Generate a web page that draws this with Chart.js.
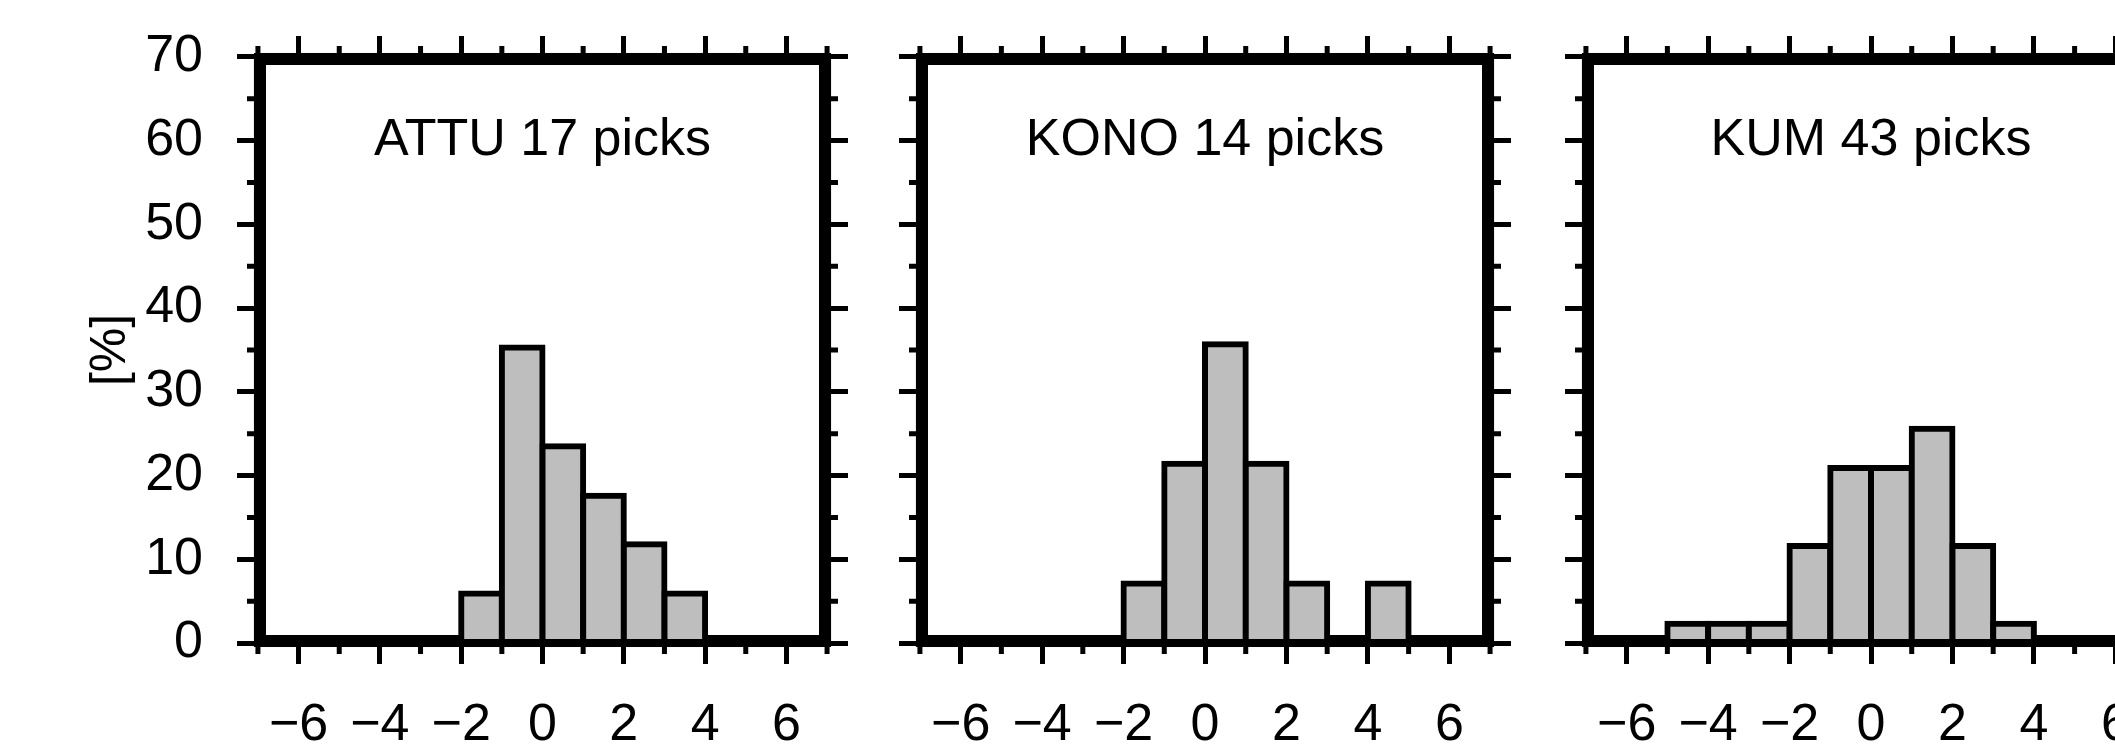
<!DOCTYPE html>
<html>
<head>
<meta charset="utf-8">
<title>Pick residual histograms</title>
<script src="https://cdn.jsdelivr.net/npm/chart.js@4.4.1/dist/chart.umd.min.js"></script>
<style>
  html, body { margin: 0; padding: 0; background: #fff; overflow: hidden; }
  body { width: 2115px; height: 746px; position: relative; }
  .panel { position: absolute; top: 0; height: 760px; }
</style>
</head>
<body>
<div class="panel" id="panel-0"><canvas id="chart-0"></canvas></div>
<div class="panel" id="panel-1"><canvas id="chart-1"></canvas></div>
<div class="panel" id="panel-2"><canvas id="chart-2"></canvas></div>
<script>
// --- data ---
const stations = ['ATTU', 'KONO', 'KUM'];
const pickCounts = [17, 14, 43];
const binStarts = [-7, -6, -5, -4, -3, -2, -1, 0, 1, 2, 3, 4, 5, 6];
const attuPct = [0, 0, 0, 0, 0, 5.9, 35.3, 23.5, 17.6, 11.8, 5.9, 0, 0, 0];
const konoPct = [0, 0, 0, 0, 0, 7.1, 21.4, 35.7, 21.4, 7.1, 0, 7.1, 0, 0];
const kumPct  = [0, 0, 2.3, 2.3, 2.3, 11.6, 20.9, 20.9, 25.6, 11.6, 2.3, 0, 0, 0];
const xMajorTicks = [-6, -4, -2, 0, 2, 4, 6];
const xMinorTicks = [-7, -5, -3, -1, 1, 3, 5, 7];
const yMajorTicks = [0, 10, 20, 30, 40, 50, 60, 70];
const yMinorTicks = [5, 15, 25, 35, 45, 55, 65];
const xRange = [-7, 7];
const yRange = [0, 70];

// --- layout ---
const FRAME = 8;        // frame line width
const MAJOR = 25;       // major tick length (from plot edge)
const MINOR = 15;       // minor tick length (from plot edge)
const TOP_H = 61;
const BOTTOM_H = 121;
const xInset = 0.1;     // frame is centred on the range ends
const yInset = 0.48;
const panels = [
    { left: 77,   width: 796, axisLeft: 185, axisRight: 50, labels: true },
    { left: 874,  width: 662, axisLeft: 50,  axisRight: 50, labels: false },
    { left: 1540, width: 662, axisLeft: 50,  axisRight: 50, labels: false }
];
const series = [attuPct, konoPct, kumPct];

Chart.defaults.font.family = '"Liberation Sans", Arial, Helvetica, sans-serif';
Chart.defaults.color = '#000';

const fmt = v => v < 0 ? '\u2212' + (-v) : String(v);
const noPad = s => { s.paddingLeft = s.paddingRight = s.paddingTop = s.paddingBottom = 0; };

// minor ticks, frame and the label inside the plot
const frameTicks = {
    id: 'frameTicks',
    afterDraw(chart, args, opts) {
        const { ctx, chartArea: a, scales: { x, y } } = chart;
        ctx.save();
        ctx.strokeStyle = '#000';
        ctx.lineWidth = 5;
        ctx.beginPath();
        xMinorTicks.forEach(v => {
            const px = x.getPixelForValue(v);
            ctx.moveTo(px, a.bottom); ctx.lineTo(px, a.bottom + MINOR);
            ctx.moveTo(px, a.top); ctx.lineTo(px, a.top - MINOR);
        });
        yMinorTicks.forEach(v => {
            const py = y.getPixelForValue(v);
            ctx.moveTo(a.left, py); ctx.lineTo(a.left - MINOR, py);
            ctx.moveTo(a.right, py); ctx.lineTo(a.right + MINOR, py);
        });
        ctx.stroke();

        const l = x.getPixelForValue(xRange[0]), r = x.getPixelForValue(xRange[1]);
        const t = y.getPixelForValue(yRange[1]), b = y.getPixelForValue(yRange[0]);
        ctx.lineWidth = FRAME;
        ctx.lineJoin = 'miter';
        ctx.strokeRect(l, t, r - l, b - t);

        ctx.fillStyle = '#000';
        ctx.font = '52px "Liberation Sans", Arial, sans-serif';
        ctx.textAlign = 'center';
        ctx.textBaseline = 'alphabetic';
        ctx.fillText(opts.label, (a.left + a.right) / 2, a.top + 94);
        ctx.restore();
    }
};

const tickGrid = { drawOnChartArea: false, tickLength: MAJOR, tickWidth: 5, tickColor: '#000', offset: false };
const frameBorder = { display: true, width: FRAME, color: '#000' };

const makeScales = (p) => ({
    x: {
        type: 'linear', position: 'bottom', offset: false,
        min: xRange[0] + xInset, max: xRange[1] - xInset,
        grid: tickGrid, border: frameBorder,
        afterBuildTicks: s => { s.ticks = xMajorTicks.map(v => ({ value: v })); },
        ticks: { autoSkip: false, maxRotation: 0, minRotation: 0, padding: 30, font: { size: 52 }, callback: fmt },
        afterFit: s => { s.height = BOTTOM_H; noPad(s); }
    },
    x2: {
        type: 'linear', position: 'top', offset: false,
        min: xRange[0] + xInset, max: xRange[1] - xInset,
        grid: tickGrid, border: frameBorder,
        afterBuildTicks: s => { s.ticks = xMajorTicks.map(v => ({ value: v })); },
        ticks: { display: false },
        afterFit: s => { s.height = TOP_H; noPad(s); }
    },
    y: {
        type: 'linear', position: 'left', beginAtZero: false,
        min: yRange[0] + yInset, max: yRange[1] - yInset,
        grid: tickGrid, border: frameBorder,
        afterBuildTicks: s => { s.ticks = yMajorTicks.map(v => ({ value: v })); },
        ticks: { display: p.labels, autoSkip: false, padding: 34, font: { size: 52 }, callback: fmt },
        title: { display: p.labels, text: '[%]', font: { size: 50 }, padding: { top: 4, bottom: 4 } },
        afterFit: s => { s.width = p.axisLeft; noPad(s); }
    },
    y2: {
        type: 'linear', position: 'right', beginAtZero: false,
        min: yRange[0] + yInset, max: yRange[1] - yInset,
        grid: tickGrid, border: frameBorder,
        afterBuildTicks: s => { s.ticks = yMajorTicks.map(v => ({ value: v })); },
        ticks: { display: false },
        afterFit: s => { s.width = p.axisRight; noPad(s); }
    }
});

panels.forEach((p, i) => {
    const box = document.getElementById('panel-' + i);
    box.style.left = p.left + 'px';
    box.style.width = p.width + 'px';

    const points = binStarts
        .map((b, k) => ({ x: b + 0.5, y: series[i][k] }))
        .filter(pt => pt.y > 0);

    new Chart(document.getElementById('chart-' + i), {
        type: 'bar',
        data: {
            datasets: [{
                label: stations[i],
                data: points,
                xAxisID: 'x',
                yAxisID: 'y',
                backgroundColor: '#bebebe',
                borderColor: '#000',
                borderWidth: 6,
                borderSkipped: 'start',
                inflateAmount: 3,
                barPercentage: 1,
                categoryPercentage: 1
            }]
        },
        options: {
            responsive: true,
            maintainAspectRatio: false,
            animation: false,
            layout: { padding: 0 },
            plugins: {
                legend: { display: false },
                tooltip: { enabled: false },
                frameTicks: { label: `${stations[i]} ${pickCounts[i]} picks` }
            },
            scales: makeScales(p)
        },
        plugins: [frameTicks]
    });
});
</script>
</body>
</html>
